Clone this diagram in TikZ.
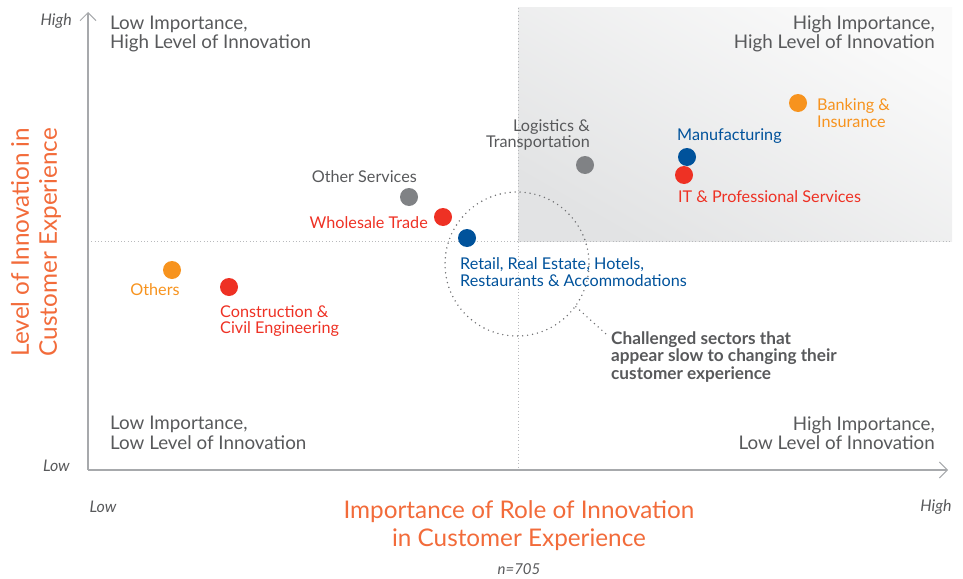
\documentclass[tikz,border=0pt]{standalone}
\usepackage{fontspec}
\setmainfont{Lato}
\usetikzlibrary{arrows.meta,calc}
\definecolor{txtgray}{HTML}{58595B}
\definecolor{axisgray}{HTML}{A7A9AC}
\definecolor{orangeC}{HTML}{F7931E}
\definecolor{redC}{HTML}{EE3124}
\definecolor{blueC}{HTML}{00529B}
\definecolor{grayC}{HTML}{808285}
\definecolor{titleC}{HTML}{F26B3A}
\definecolor{shadeLight}{HTML}{FAFAFA}
\definecolor{shadeDark}{HTML}{E2E3E4}
\tikzset{
  dot/.style={circle,inner sep=0pt,minimum size=18pt},
  lbl/.style={inner sep=0pt,font=\fontsize{16.2}{16.5}\selectfont},
  quad/.style={inner sep=0pt,text=txtgray,font=\fontsize{18.8}{19.5}\selectfont},
  tick/.style={inner sep=0pt,text=txtgray,font=\fontsize{16}{16}\selectfont\itshape},
  ttl/.style={inner sep=0pt,text=titleC,align=center,font=\fontsize{24.3}{28}\selectfont},
  axis/.style={draw=axisgray,line width=1.4pt,-{Straight Barb[length=8pt,width=16pt,line width=1pt]}},
  divider/.style={draw=axisgray!80,line width=0.9pt,dash pattern=on 0.9pt off 2.4pt},
  ring/.style={draw=txtgray!85,line width=1.6pt,line cap=round,dash pattern=on 0pt off 5pt},
}
\begin{document}
\begin{tikzpicture}[x=1pt,y=-1pt]
\useasboundingbox (0,0) rectangle (963,578);
% shaded quadrant
\shade[shading=axis,top color=shadeLight,bottom color=shadeDark,shading angle=-30] (518,8) rectangle (952,241);
% dividers
\coordinate (hl) at (88,241);
\coordinate (hr) at (952,241);
\coordinate (vt) at (518,8);
\coordinate (vb) at (518,470);
\draw[divider] (hl) -- (hr);
\draw[divider] (vt) -- (vb);
% axes
\coordinate (origin) at (88,470);
\coordinate (ytop) at (88,12);
\coordinate (xend) at (948,470);
\draw[axis] (origin) -- (ytop);
\draw[axis] (origin) -- (xend);
% ticks
\node[tick,anchor=east] (yhigh) at (72,21) {High};
\node[tick,anchor=east] (ylow) at (70,466) {Low};
\node[tick] (xlow) at (103,507) {Low};
\node[tick] (xhigh) at (936,507) {High};
% quadrant labels
\node[quad,anchor=west,align=left] (tl) at (110,34) {Low Importance,\\High Level of Innovation};
\node[quad,anchor=east,align=right] (tr) at (935,34) {High Importance,\\High Level of Innovation};
\node[quad,anchor=west,align=left] (bl) at (110,433) {Low Importance,\\Low Level of Innovation};
\node[quad,anchor=east,align=right] (br) at (935,433) {High Importance,\\Low Level of Innovation};
% axis titles
\node[ttl] (xtitle) at (519,526) {Importance of Role of Innovation\\in Customer Experience};
\node[ttl,rotate=90] (ytitle) at (36,242) {Level of Innovation in\\Customer Experience};
\node[tick,font=\fontsize{15}{15}\selectfont\itshape] (n) at (519,569) {n=705};
% ring
\node[ring,circle,minimum size=144pt,inner sep=0pt] (ringc) at (517,264) {};
% dots
\node[dot,fill=orangeC] (bank) at (798,103) {};
\node[dot,fill=blueC] (manu) at (687,157) {};
\node[dot,fill=redC] (itps) at (684,175) {};
\node[dot,fill=grayC] (logi) at (585,165) {};
\node[dot,fill=grayC] (other) at (409,197) {};
\node[dot,fill=redC] (whole) at (443,217) {};
\node[dot,fill=blueC] (retail) at (467,238) {};
\node[dot,fill=orangeC] (others) at (172,270) {};
\node[dot,fill=redC] (constr) at (229,287) {};
% dot labels
\node[lbl,text=orangeC,anchor=west,align=left] (bankL) at (817,113) {Banking \&\\Insurance};
\node[lbl,text=blueC,anchor=west] (manuL) at (677,136) {Manufacturing};
\node[lbl,text=redC,anchor=west] (itpsL) at (678,197) {IT \& Professional Services};
\node[lbl,text=txtgray,anchor=east,align=right] (logiL) at (590,135) {Logistics \&\\Transportation};
\node[lbl,text=txtgray,anchor=east] (otherL) at (417,177) {Other Services};
\node[lbl,text=redC,anchor=east] (wholeL) at (428,223) {Wholesale Trade};
\node[lbl,text=blueC,anchor=west,align=left] (retailL) at (460,272) {Retail, Real Estate, Hotels,\\Restaurants \& Accommodations};
\node[lbl,text=orangeC] (othersL) at (155,290) {Others};
\node[lbl,text=redC,anchor=west,align=left] (constrL) at (220,321) {Construction \&\\Civil Engineering};
% callout
\node[inner sep=0pt,anchor=west,align=left,text=txtgray,font=\fontsize{17.2}{17.6}\selectfont\bfseries] (callout) at (611,357) {Challenged sectors that\\appear slow to changing their\\customer experience};
\coordinate (calloutEnd) at (606,334);
\draw[ring] (ringc.-36) -- (calloutEnd);
\end{tikzpicture}
\end{document}
